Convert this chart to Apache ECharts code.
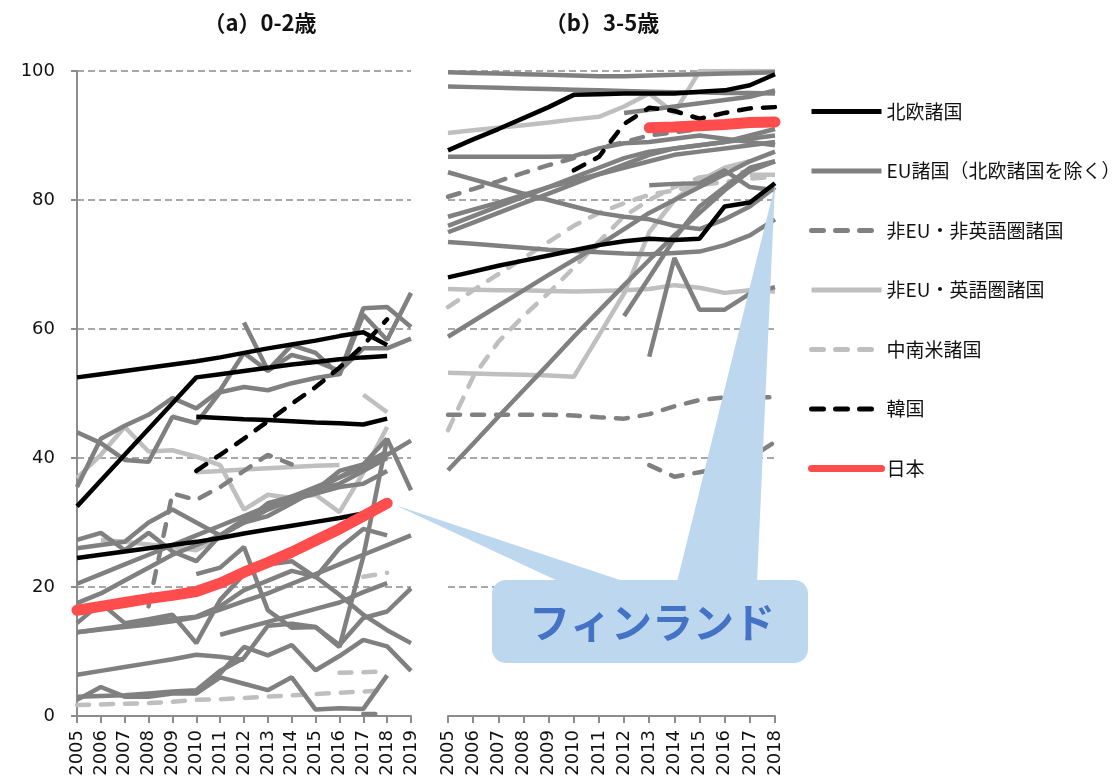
<!DOCTYPE html>
<html>
<head>
<meta charset="utf-8">
<script src="https://cdn.jsdelivr.net/npm/echarts@6/dist/echarts.min.js"></script>
<style>
    html, body { margin: 0; padding: 0; background: #fff; }
    #chart { width: 1120px; height: 784px; }
</style>
</head>
<body>
<div id="chart"></div>
<script>
    // 年 (a: 0-2歳 / b: 3-5歳)
    const yearsA = ['2005','2006','2007','2008','2009','2010','2011','2012','2013','2014','2015','2016','2017','2018','2019'];
    const yearsB = ['2005','2006','2007','2008','2009','2010','2011','2012','2013','2014','2015','2016','2017','2018'];
    const yTicks = [0, 20, 40, 60, 80, 100];

    const groupNames = ['北欧諸国', 'EU諸国（北欧諸国を除く）', '非EU・非英語圏諸国', '非EU・英語圏諸国', '中南米諸国', '韓国', '日本'];

    // (a) 0-2歳
    const nordicA = [
        [52.5,53,53.5,54,54.5,55,55.6,56.3,57,57.6,58.2,58.9,59.5,57.5,null],
        [32.5,36.5,40.5,44.5,48.5,52.5,53,53.5,54,54.5,54.9,55.3,55.6,55.8,null],
        [null,null,null,null,null,46.4,46.2,46,45.9,45.7,45.5,45.4,45.2,46.1,null],
        [24.5,25,25.5,26,26.5,27,27.6,28.3,28.9,29.5,30.1,30.7,31.4,33,null]
    ];
    const euA = [
        [44,42.3,39.7,39.4,46.4,45.4,50.2,51,50.5,51.6,52.4,53,63.2,63.4,60.3],
        [null,null,null,null,null,null,null,61,53.6,57.5,56.3,52.9,62.2,58.3,65.6],
        [35.5,43,45,46.7,49.3,47.7,50.5,56.3,53.5,56,55,53.5,57,57,58.5],
        [null,null,null,null,null,22,23,26.2,16.4,13.7,13.8,10.7,24.7,43,35],
        [null,null,null,null,null,3.5,6.6,10.7,9.4,11,7.1,9.3,11.8,10.8,7],
        [2.5,4.5,3,3,3.5,3.5,6,5,4,6,1,1.2,1.1,6.3,null],
        [3,3.1,3.2,3.5,3.8,4,7,9,14,14.3,13.8,11,15.2,16.2,19.8],
        [13,13.5,14,14.5,15,15.4,17,19.5,21,22.5,21.6,18.8,15.7,13.3,11.3],
        [6.4,7,7.6,8.2,8.8,9.5,9.2,8.7,null,null,null,null,null,null,null],
        [20.5,22,23.5,25,26.5,28,29.5,31,32.5,34,35.5,37,38.5,40.5,42.7],
        [27.3,28.4,25.7,28.4,25.5,24,28,30,33,34,35,36,38,40,null],
        [26,26.5,27,30,32,30,28,30.5,32.5,33.5,34.5,35.5,36,38,null],
        [17.5,19,21,23,25,26.5,28,30,32,33.5,35,37,39,41,null],
        [14.4,17.5,14.4,15,15.7,11.3,18,22,23.5,24,21.5,26,29,28,null],
        [13,13.4,13.8,14.2,14.7,15.3,16.5,17.8,19,20.5,22,23.5,25,26.5,28],
        [null,null,null,null,null,null,12.6,13.6,14.6,15.6,16.6,17.6,19.2,20.6,null],
        [null,null,null,null,null,null,null,30,31,33,35,38,39,43,null]
    ];
    const nonEuNonEnA = [
        [null,null,null,17,34.5,33.5,35.5,38,40.5,39,null,null,null,null,null],
        [null,null,null,null,null,null,null,null,null,null,null,null,0.3,0.3,null]
    ];
    const nonEuEnA = [
        [36.9,40.5,44.8,41,41.2,40.2,38.9,32,34.3,33.8,34.3,31.6,37.7,44.8,null],
        [null,null,null,null,null,37.8,38,38.2,38.4,38.6,38.8,38.9,null,null,null],
        [null,null,null,null,null,null,null,null,null,null,null,null,49.8,47.1,null],
        [null,27.3,27,26.6,26.2,25.7,27.8,null,null,null,null,null,null,null,null]
    ];
    const latamA = [
        [1.7,1.8,1.9,2,2.2,2.5,2.6,2.8,3,3.2,3.4,3.6,3.8,4,null],
        [null,null,null,null,null,null,null,null,null,null,null,6.7,6.8,6.9,null],
        [null,null,null,null,null,null,null,null,null,null,null,null,21.6,22.2,null]
    ];
    const koreaA = [[null,null,null,null,null,38,40.5,43,45.7,48.4,51,54,57.5,61.5,null]];
    const japanA = [[16.4,17,17.6,18.2,18.7,19.3,20.6,22.3,23.8,25.4,27.2,29,31,33,null]];

    // (b) 3-5歳
    const nordicB = [
        [87.7,89.4,91,92.7,94.4,96.3,96.4,96.5,96.5,96.5,96.8,97,97.8,99.5],
        [68,68.9,69.8,70.6,71.4,72.2,73,73.6,74,73.8,74,79,79.6,82.6]
    ];
    const euB = [
        [99.8,99.7,99.6,99.5,99.4,99.3,99.2,99.2,99.3,99.4,99.5,99.6,99.7,99.8],
        [97.6,97.5,97.4,97.3,97.2,97.1,97,96.9,96.8,96.7,96.7,96.6,96.6,96.5],
        [84.3,83.2,82.1,81,80,79,78,77.4,77,76,75.5,77,79,82],
        [86.7,86.7,86.7,86.7,86.7,86.8,88,88.8,89,89.5,90,89.5,89,88.5],
        [73.5,73.2,72.9,72.6,72.3,72.1,71.9,71.7,71.6,71.8,72,73,74.5,77],
        [38.1,42.2,46.4,50.5,54.6,58.8,62.8,66.8,70.7,74.5,78,81.5,84.5,86],
        [null,null,null,null,null,null,null,null,55.7,71,63,63,65.5,66.5],
        [58.8,61.2,63.6,66,68.4,70.7,73,75.5,78,80,82,84,86,87.5],
        [77.4,78.5,79.6,80.8,82,83,84,85,86,87,87.5,88,88.5,89],
        [76,77.5,79,80.5,82,83.5,85,86.5,87.5,88,88.5,89,89.5,90],
        [null,null,null,null,null,null,null,null,82.3,82.5,82.6,84.6,82,81.5],
        [null,null,null,null,null,null,null,62,68,74,79,82,85,86],
        [null,null,null,null,null,null,null,93.5,94,94.5,95,95.5,96,97],
        [75,76.5,78,79.5,81,82.5,84,85.5,87,88,88.5,89,90,91]
    ];
    const nonEuNonEnB = [
        [46.7,46.7,46.7,46.7,46.7,46.6,46.3,46.1,46.8,48,49,49.4,49.4,49.4],
        [null,null,null,null,null,null,null,null,38.9,37.1,37.8,38.5,40,42.5],
        [80.5,81.7,82.9,84.2,85.4,86.5,88,89,90,90.5,91,91.5,92,92.5]
    ];
    const nonEuEnB = [
        [90.4,90.8,91.2,91.6,92,92.5,92.9,94.5,96.5,93.5,100,100,100,100],
        [66.2,66.1,66,66,65.9,65.8,65.9,66,66.2,66.8,66.4,65.6,66,65.8],
        [53.2,53.1,53,52.9,52.8,52.6,59,65.5,75,80,83,85,86,null],
        [null,null,null,null,null,null,null,null,null,null,null,null,83.9,83.9]
    ];
    const latamB = [
        [63.4,66,68.5,71,73.5,76,78,79.5,80.8,81.5,82.3,82.8,83.3,83.6],
        [44.3,52.6,58,62,65.6,69.5,73.5,77.5,80,82,83.5,84,84.5,null]
    ];
    const koreaB = [[null,null,null,null,null,84.6,86.7,91.8,94.3,93.8,92.6,93.5,94.2,94.4]];
    const japanB = [[null,null,null,null,null,null,null,null,91.2,91.3,91.5,91.7,92,92.1]];

    const dash = [12, 12];
    const styles = [
        { color: '#000000', width: 4.5 },
        { color: '#808080', width: 4.5 },
        { color: '#808080', width: 4.5, type: dash, cap: 'round' },
        { color: '#bfbfbf', width: 4.5 },
        { color: '#bfbfbf', width: 4.5, type: dash, cap: 'round' },
        { color: '#000000', width: 4.5, type: dash, cap: 'round' },
        { color: '#ff4d4d', width: 11, cap: 'round' }
    ];
    const zOrder = [5, 3, 4, 2, 2, 6, 8];

    function makeSeries(lists, gi, axis) {
        return lists.map(d => ({
            type: 'line',
            name: groupNames[gi],
            xAxisIndex: axis,
            yAxisIndex: axis,
            data: d,
            symbol: 'none',
            silent: true,
            z: zOrder[gi],
            itemStyle: { color: styles[gi].color },
            lineStyle: styles[gi]
        }));
    }

    const panelA = [nordicA, euA, nonEuNonEnA, nonEuEnA, latamA, koreaA, japanA];
    const panelB = [nordicB, euB, nonEuNonEnB, nonEuEnB, latamB, koreaB, japanB];
    let series = [];
    // 凡例の順番を合わせるため、グループ順に追加
    groupNames.forEach((n, gi) => {
        series = series.concat(makeSeries(panelA[gi], gi, 0), makeSeries(panelB[gi], gi, 1));
    });

    const axisGray = '#8c8c8c';
    const labelFont = { color: '#111', fontSize: 18, fontFamily: 'DejaVu Sans' };

    function xAxisOf(cats, grid) {
        return {
            type: 'category',
            gridIndex: grid,
            data: cats,
            boundaryGap: false,
            axisLine: { lineStyle: { color: axisGray, width: 2 } },
            axisTick: { alignWithLabel: true, length: 7, lineStyle: { color: axisGray, width: 2 } },
            axisLabel: Object.assign({ rotate: 90, margin: 14, interval: 0 }, labelFont),
            splitLine: { show: false }
        };
    }
    function yAxisOf(grid, showLabels) {
        return {
            type: 'value',
            gridIndex: grid,
            min: 0,
            max: 100,
            interval: 20,
            axisLine: { show: showLabels, onZero: false, lineStyle: { color: axisGray, width: 2 } },
            axisTick: { show: showLabels, length: 9, lineStyle: { color: axisGray, width: 2, type: [6, 3] } },
            axisLabel: Object.assign({ show: showLabels, margin: 22, formatter: v => yTicks.includes(v) ? String(v) : '' }, labelFont),
            splitLine: { show: true, lineStyle: { color: axisGray, width: 1.6, type: [7, 4] } }
        };
    }

    const titleFont = { fontSize: 22, fontWeight: 'bold', color: '#111', fontFamily: 'Noto Sans CJK JP' };

    const myChart = echarts.init(document.getElementById('chart'), null, { renderer: 'canvas' });
    myChart.setOption({
        animation: false,
        backgroundColor: '#ffffff',
        title: [
            { text: '（a）0-2歳', left: 255, top: 7, textAlign: 'center', textStyle: titleFont },
            { text: '（b）3-5歳', left: 597, top: 7, textAlign: 'center', textStyle: titleFont }
        ],
        grid: [
            { left: 77, top: 71, width: 334, height: 645 },
            { left: 448, top: 71, width: 327, height: 645 }
        ],
        xAxis: [xAxisOf(yearsA, 0), xAxisOf(yearsB, 1)],
        yAxis: [yAxisOf(0, true), yAxisOf(1, false)],
        legend: {
            orient: 'vertical',
            left: 803,
            top: 97,
            itemWidth: 70,
            itemHeight: 14,
            itemGap: 40.5,
            selectedMode: false,
            itemStyle: { opacity: 0 },
            lineStyle: { width: 5 },
            textStyle: { fontSize: 19, color: '#111', fontFamily: 'Noto Sans CJK JP' },
            data: groupNames.map((n, i) => i === 6 ? { name: n, lineStyle: { width: 7 } } : { name: n })
        },
        graphic: [
            {
                type: 'polygon', z: 100, silent: true,
                shape: { points: [[395, 505], [560, 582], [626, 582]] },
                style: { fill: '#bdd7ee' }
            },
            {
                type: 'polygon', z: 100, silent: true,
                shape: { points: [[775, 185], [677, 582], [757, 582]] },
                style: { fill: '#bdd7ee' }
            },
            {
                type: 'rect', z: 100, silent: true,
                shape: { x: 492, y: 580, width: 316, height: 83, r: 14 },
                style: { fill: '#bdd7ee' }
            },
            {
                type: 'text', z: 101, silent: true,
                x: 652, y: 622,
                style: {
                    text: 'フィンランド',
                    fill: '#4472c4',
                    font: 'bold 41px "Noto Sans CJK JP"',
                    align: 'center',
                    verticalAlign: 'middle'
                }
            }
        ],
        series: series
    });
</script>
</body>
</html>
